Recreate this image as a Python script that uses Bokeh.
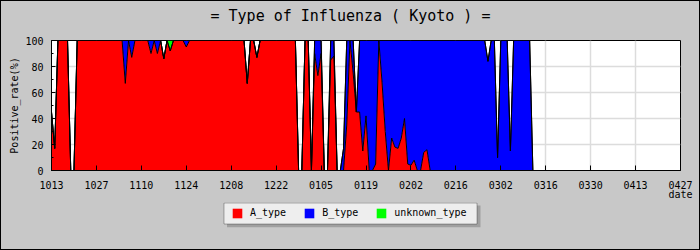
from bokeh.plotting import figure
from bokeh.layouts import column
from bokeh.models import (ColumnDataSource, Range1d, FixedTicker, SingleIntervalTicker,
                          Legend, LegendItem, Title, BoxAnnotation)
from bokeh.embed import file_html
from bokeh.resources import INLINE

title_text = "= Type of Influenza ( Kyoto ) ="
y_label = "Positive_rate(%)"
x_label = "date"
tick_days = [0, 14, 28, 42, 56, 70, 84, 98, 112, 126, 140, 154, 168, 182, 196]
tick_labels = ["1013", "1027", "1110", "1124", "1208", "1222", "0105", "0119",
               "0202", "0216", "0302", "0316", "0330", "0413", "0427"]
series_names = ["A_type", "B_type", "unknown_type"]
series_colors = ["#ff0000", "#0000ff", "#00ff00"]

# daily positive rate (%) starting at 10/13
a_type = [
    45, 17, 100, 100, 100, 100, 0, 0, 100, 100,
    100, 100, 100, 100, 100, 100, 100, 100, 100, 100,
    100, 100, 100, 67, 100, 87, 100, 100, 100, 100,
    100, 90, 100, 90, 100, 86, 100, 92, 100, 100,
    100, 100, 95, 100, 100, 100, 100, 100, 100, 100,
    100, 100, 100, 100, 100, 100, 100, 100, 100, 100,
    100, 67, 100, 100, 87, 100, 100, 100, 100, 100,
    100, 100, 100, 100, 100, 100, 100, 0, 0, 100,
    100, 0, 90, 73, 90, 0, 0, 85, 88, 0,
    0, 0, 35, 100, 75, 45, 45, 15, 42, 0,
    0, 5, 100, 68, 30, 0, 25, 18, 17, 25,
    40, 5, 4, 8, 0, 0, 14, 16, 0, 0,
    0, 0, 0, 0, 0, 0, 0, 0, 0, 0,
    0, 0, 0, 0, 0, 0, 0, 0, 0, 0,
    0, 0, 0, 0, 0, 0, 0, 0, 0, 0,
    0,
]
b_type = [
    0, 0, 0, 0, 0, 0, 0, 0, 0, 0,
    0, 0, 0, 0, 0, 0, 0, 0, 0, 0,
    0, 0, 0, 33, 0, 13, 0, 0, 0, 0,
    0, 10, 0, 10, 0, 0, 0, 0, 0, 0,
    0, 0, 5, 0, 0, 0, 0, 0, 0, 0,
    0, 0, 0, 0, 0, 0, 0, 0, 0, 0,
    0, 0, 0, 0, 0, 0, 0, 0, 0, 0,
    0, 0, 0, 0, 0, 0, 0, 0, 0, 0,
    0, 0, 10, 27, 10, 0, 0, 15, 12, 0,
    0, 17, 65, 0, 25, 0, 55, 85, 58, 100,
    100, 95, 0, 32, 70, 100, 75, 82, 83, 75,
    60, 95, 96, 92, 100, 100, 86, 84, 100, 100,
    100, 100, 100, 100, 100, 100, 100, 100, 100, 100,
    100, 100, 100, 100, 100, 100, 84, 100, 100, 10,
    100, 100, 100, 15, 100, 100, 100, 100, 100, 100,
    0,
]
unknown_type = [0] * 37 + [8] + [0] * 113
day = list(range(len(a_type)))

FONT = "DejaVu Sans Mono"
BG = "#c8c8c8"

src = ColumnDataSource(dict(day=day, A=a_type, B=b_type, U=unknown_type))

# ---------------- main chart ----------------
p = figure(frame_width=629, frame_height=130, output_backend="svg", toolbar_location=None,
           x_range=Range1d(0, 196), y_range=Range1d(0, 100),
           min_border_left=50, min_border_right=19, min_border_top=39, min_border_bottom=30,
           background_fill_color="white", border_fill_color=BG, margin=(1, 1, 0, 1),
           styles={"background-color": BG})

p.title.text = title_text
p.title.text_font = FONT
p.title.text_font_size = "15px"
p.title.text_font_style = "normal"
p.title.align = "left"
p.title.offset = 159
p.title.standoff = 6
p.title.text_color = "black"
# gap between the title and the plot area
p.add_layout(Title(text=" ", text_font_size="1px", standoff=10), "above")

p.outline_line_color = "black"
p.outline_line_width = 1

# grid
p.xgrid.ticker = FixedTicker(ticks=tick_days)
p.ygrid.ticker = SingleIntervalTicker(interval=20)
p.grid.grid_line_color = "#dcdcdc"
p.grid.grid_line_width = 1.5

# x axis
xa = p.xaxis[0]
xa.ticker = FixedTicker(ticks=tick_days)
xa.major_label_overrides = {d: l for d, l in zip(tick_days, tick_labels)}
xa.major_tick_in = 5
xa.major_tick_out = 0
xa.minor_tick_in = 0
xa.minor_tick_out = 0
xa.major_label_standoff = 10
xa.axis_line_color = "black"
xa.major_tick_line_color = "black"
xa.major_label_text_font = FONT
xa.major_label_text_font_size = "10px"
xa.major_label_text_color = "black"
xa.axis_label = x_label
xa.axis_label_text_font = FONT
xa.axis_label_text_font_size = "10px"
xa.axis_label_text_font_style = "normal"
xa.axis_label_text_color = "black"
xa.axis_label_standoff = -3
if "axis_label_align" in xa.properties():
    xa.axis_label_align = "end"

# y axis
ya = p.yaxis[0]
ya.ticker = SingleIntervalTicker(interval=20, num_minor_ticks=2)
ya.major_tick_in = 4
ya.major_tick_out = 0
ya.minor_tick_in = 2
ya.minor_tick_out = 0
ya.major_label_standoff = 8
ya.axis_line_color = "black"
ya.major_tick_line_color = "black"
ya.minor_tick_line_color = "black"
ya.major_label_text_font = FONT
ya.major_label_text_font_size = "10px"
ya.major_label_text_color = "black"
ya.axis_label = y_label
ya.axis_label_text_font = FONT
ya.axis_label_text_font_size = "10px"
ya.axis_label_text_font_style = "normal"
ya.axis_label_text_color = "black"
ya.axis_label_standoff = 2

# stacked areas + black outlines
p.varea_stack(["A", "B", "U"], x="day", color=series_colors, source=src)
p.vline_stack(["A", "B", "U"], x="day", color="black", line_width=1, source=src)

# ---------------- legend strip ----------------
Q_H = 47
q = figure(width=698, height=Q_H, output_backend="svg", toolbar_location=None,
           x_range=Range1d(0, 1), y_range=Range1d(0, 1),
           x_axis_type=None, y_axis_type=None, min_border=0,
           background_fill_color=BG, border_fill_color=BG, margin=(0, 1, 1, 1),
           styles={"background-color": BG})
q.grid.visible = False
q.outline_line_color = None

swatches = q.varea_stack(["A", "B", "U"], x="day", color=series_colors, source=src)
for r in swatches:
    r.visible = False

q.add_layout(BoxAnnotation(left=225.5, right=479, top=3, bottom=24.7,
                           left_units="canvas", right_units="canvas",
                           top_units="canvas", bottom_units="canvas",
                           fill_color="#a0a0a0", fill_alpha=1, line_color=None))
q.add_layout(BoxAnnotation(left=222.5, right=475.5, top=0.5, bottom=21.5,
                           left_units="canvas", right_units="canvas",
                           top_units="canvas", bottom_units="canvas",
                           fill_color="#eeeeee", fill_alpha=1, line_color="black",
                           line_width=1))

legend = Legend(items=[LegendItem(label=n, renderers=[r]) for n, r in zip(series_names, swatches)],
                orientation="horizontal", location=(180, Q_H - 16.5),
                glyph_width=12, glyph_height=12, label_standoff=7, spacing=17,
                padding=5, margin=0, label_height=11,
                label_text_font=FONT, label_text_font_size="10px", label_text_color="black",
                border_line_color=None, background_fill_alpha=0,
                inactive_fill_alpha=0)
q.add_layout(legend)

layout = column(p, q, spacing=0, styles={"background-color": "black"})

open("out.html", "w").write(file_html(layout, INLINE))
